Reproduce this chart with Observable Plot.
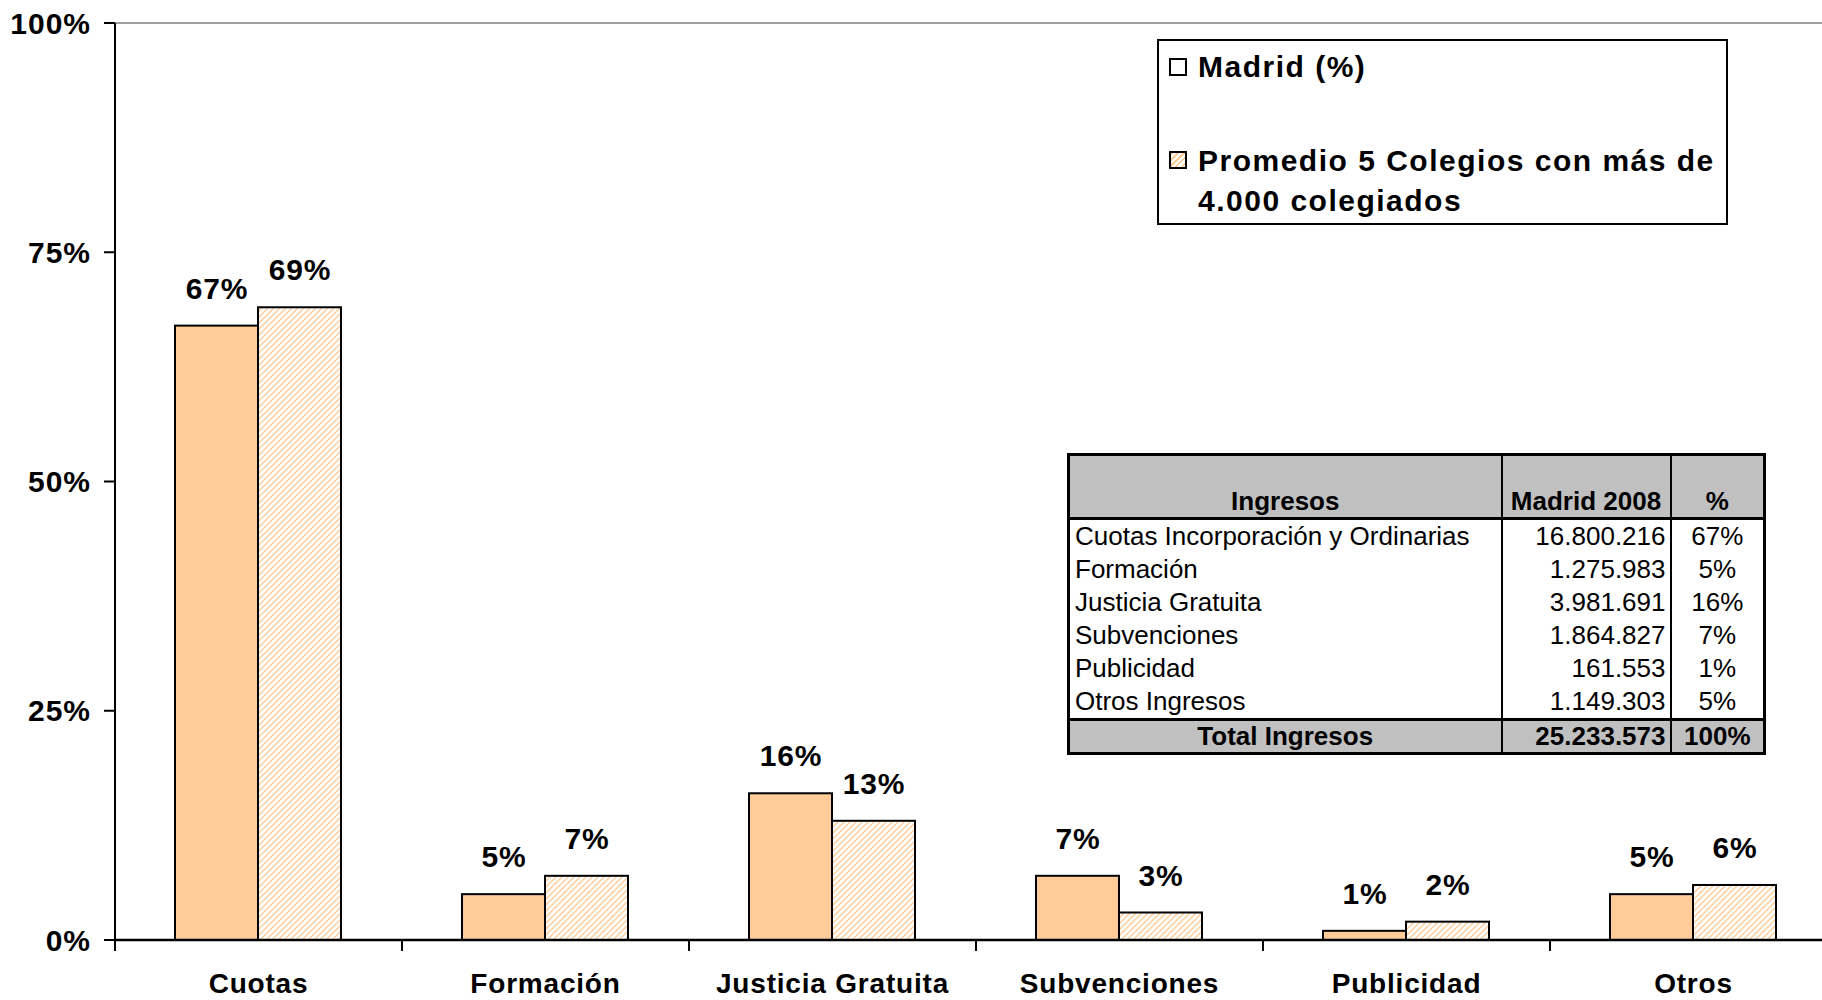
<!DOCTYPE html>
<html>
<head>
<meta charset="utf-8">
<script src="https://cdn.jsdelivr.net/npm/d3@7"></script>
<script src="https://cdn.jsdelivr.net/npm/@observablehq/plot@0.6"></script>
<style>
html, body { margin: 0; padding: 0; background: #fff; overflow: hidden; }
#wrap { position: relative; width: 1822px; height: 1000px; overflow: hidden; }
#chart { position: absolute; left: 0; top: 0; width: 1837px; height: 1000px; }
#chart svg { display: block; max-width: none !important; }
#legend { position: absolute; left: 1157px; top: 39px; width: 571px; height: 186px; box-sizing: border-box;
  border: 2px solid #000; background: #fff; color: #000;
  font: bold 30px "Liberation Sans", Arial, sans-serif; letter-spacing: 1.5px; }
#legend .sw { position: absolute; left: 10px; width: 18px; height: 18px; box-sizing: border-box; border: 2px solid #000; background: #fff; }
#legend .sw.hatch { background: repeating-linear-gradient(135deg, #FFCC99 0 1.5px, #fff 1.5px 4.2px); }
#legend .lt { position: absolute; left: 39px; line-height: 39.5px; white-space: pre; }
#tbl { position: absolute; left: 1067px; top: 453px; width: 696px; table-layout: fixed; border-collapse: collapse;
  font: 26px "Liberation Sans", Arial, sans-serif; color: #000; background: #fff; border: 3px solid #000; }
#tbl th, #tbl td { padding: 0 5px; white-space: nowrap; overflow: hidden; border-right: 2px solid #000; }
#tbl thead th { background: #c0c0c0; height: 60px; vertical-align: bottom; font-weight: bold; line-height: 30px; border-bottom: 3px solid #000; padding-bottom: 1px; }
#tbl tbody td { height: 32px; line-height: 28px; padding-top: 0; padding-bottom: 1px; }
#tbl tfoot td { background: #c0c0c0; height: 30px; line-height: 28px; font-weight: bold; border-top: 3px solid #000; padding-bottom: 1px; }
#tbl .l { text-align: left; }
#tbl .r { text-align: right; padding-right: 4px; }
#tbl .c { text-align: center; }
</style>
</head>
<body>
<svg width="0" height="0" style="position:absolute">
  <defs>
    <pattern id="hatch" patternUnits="userSpaceOnUse" width="6" height="6">
      <rect width="6" height="6" fill="#fff"></rect>
      <path d="M-1,1 l2,-2 M0,6 l6,-6 M5,7 l2,-2" stroke="#FFCC99" stroke-width="1.4"></path>
    </pattern>
  </defs>
</svg>
<div id="wrap">
  <div id="chart"></div>
  <div id="legend"></div>
  <table id="tbl"></table>
</div>
<script>
// ---- Data ----
const categories = ["Cuotas", "Formación", "Justicia Gratuita", "Subvenciones", "Publicidad", "Otros"];
const seriesKeys = ["Madrid", "Promedio"];
const seriesLabels = ["Madrid (%)", "Promedio 5 Colegios con más de\n4.000 colegiados"];
const madridValues = [0.67, 0.05, 0.16, 0.07, 0.01, 0.05];
const promedioValues = [0.69, 0.07, 0.13, 0.03, 0.02, 0.06];
const yTicks = [0, 0.25, 0.5, 0.75, 1];

const tableHeader = ["Ingresos", "Madrid 2008", "%"];
const tableConcepts = ["Cuotas Incorporación y Ordinarias", "Formación", "Justicia Gratuita", "Subvenciones", "Publicidad", "Otros Ingresos"];
const tableAmounts = ["16.800.216", "1.275.983", "3.981.691", "1.864.827", "161.553", "1.149.303"];
const tablePercents = ["67%", "5%", "16%", "7%", "1%", "5%"];
const tableTotal = ["Total Ingresos", "25.233.573", "100%"];

// ---- Chart ----
const pct = d3.format(".0%");
const data = categories.flatMap((c, i) => [
  {cat: c, s: seriesKeys[0], v: madridValues[i]},
  {cat: c, s: seriesKeys[1], v: promedioValues[i]}
]);

const plot = Plot.plot({
  width: 1837,
  height: 1000,
  marginLeft: 115,
  marginRight: 0,
  marginTop: 23,
  marginBottom: 60,
  style: {
    fontFamily: '"Liberation Sans", Arial, sans-serif',
    fontSize: "28px",
    fontWeight: "bold",
    color: "#000",
    background: "#fff",
    letterSpacing: "0.8px",
    maxWidth: "none"
  },
  fx: {domain: categories, paddingInner: 0.42, paddingOuter: 0.21, axis: "bottom", label: null, tickSize: 0, tickPadding: 33},
  x: {domain: seriesKeys, padding: 0, axis: null},
  y: {domain: [0, 1], axis: null},
  marks: [
    Plot.barY(data.filter(d => d.s === seriesKeys[0]), {fx: "cat", x: "s", y: "v", fill: "#FFCC99", stroke: "#000", strokeWidth: 2}),
    Plot.barY(data.filter(d => d.s === seriesKeys[1]), {fx: "cat", x: "s", y: "v", fill: "url(#hatch)", stroke: "#000", strokeWidth: 2}),
    Plot.text(data, {fx: "cat", x: "s", y: "v", text: d => pct(d.v), dy: -37, fontSize: 30, fontWeight: "bold", fill: "#000"})
  ]
});
document.getElementById("chart").appendChild(plot);

// axes drawn from the plot's own scales
const ys = plot.scale("y");
const yScale = d3.scaleLinear(ys.domain, ys.range);
const fxs = plot.scale("fx");
const [xa, xb] = fxs.range;
const bounds = d3.scaleBand(categories, fxs.range);
const g = d3.select(plot).append("g").attr("class", "axes");
// plot-area top border
g.append("line").attr("x1", xa).attr("x2", xb).attr("y1", yScale(1)).attr("y2", yScale(1))
  .attr("stroke", "#808080").attr("stroke-width", 1.5);
// category boundary ticks
g.selectAll("line.bt").data(categories.map(c => bounds(c)).concat([xb])).join("line")
  .attr("class", "bt").attr("x1", d => d).attr("x2", d => d)
  .attr("y1", yScale(0)).attr("y2", yScale(0) + 11).attr("stroke", "#000").attr("stroke-width", 2);
// x axis line
g.append("line").attr("x1", xa).attr("x2", xb).attr("y1", yScale(0)).attr("y2", yScale(0))
  .attr("stroke", "#000").attr("stroke-width", 2.5);
// y axis line
g.append("line").attr("x1", xa).attr("x2", xa).attr("y1", yScale(0) + 1).attr("y2", yScale(1))
  .attr("stroke", "#000").attr("stroke-width", 2);
// y ticks + labels
g.selectAll("line.yt").data(yTicks).join("line").attr("class", "yt")
  .attr("x1", xa - 11).attr("x2", xa).attr("y1", d => yScale(d)).attr("y2", d => yScale(d))
  .attr("stroke", "#000").attr("stroke-width", 2);
g.selectAll("text.yl").data(yTicks).join("text").attr("class", "yl")
  .attr("x", xa - 24).attr("y", d => yScale(d)).attr("dy", "0.35em")
  .attr("text-anchor", "end").attr("font-size", 30).attr("font-weight", "bold").attr("fill", "#000")
  .attr("letter-spacing", "1px")
  .text(d => pct(d));

// ---- Legend ----
const legend = document.getElementById("legend");
const legendRows = [{sw: 17, txt: 6}, {sw: 110, txt: 100}];
seriesLabels.forEach((lab, i) => {
  const sw = document.createElement("div");
  sw.className = "sw" + (i === 1 ? " hatch" : "");
  sw.style.top = legendRows[i].sw + "px";
  legend.appendChild(sw);
  const t = document.createElement("div");
  t.className = "lt";
  t.style.top = legendRows[i].txt + "px";
  t.textContent = lab;
  legend.appendChild(t);
});

// ---- Table ----
const tbl = document.getElementById("tbl");
let html = '<colgroup><col style="width:433px"><col style="width:169px"><col style="width:94px"></colgroup>';
html += '<thead><tr><th class="c">' + tableHeader[0] + '</th><th class="c">' + tableHeader[1] + '</th><th class="c">' + tableHeader[2] + '</th></tr></thead><tbody>';
tableConcepts.forEach((c, i) => {
  html += '<tr><td class="l">' + c + '</td><td class="r">' + tableAmounts[i] + '</td><td class="c">' + tablePercents[i] + '</td></tr>';
});
html += '</tbody><tfoot><tr><td class="c">' + tableTotal[0] + '</td><td class="r">' + tableTotal[1] + '</td><td class="c">' + tableTotal[2] + '</td></tr></tfoot>';
tbl.innerHTML = html;
</script>
</body>
</html>
